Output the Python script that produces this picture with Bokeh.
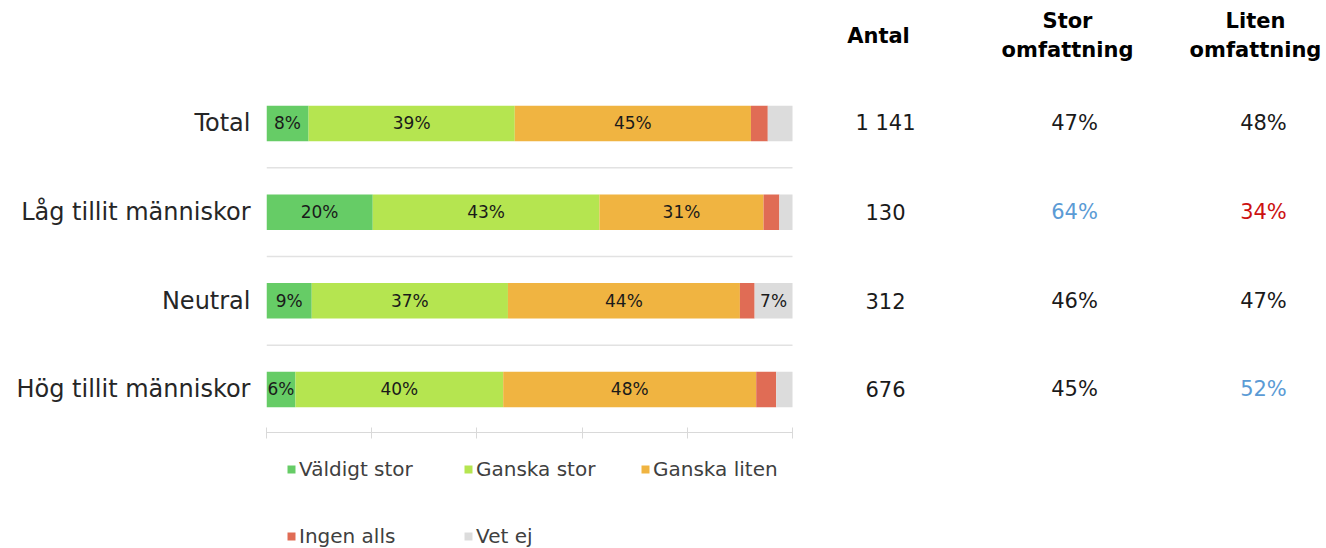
from bokeh.plotting import figure
from bokeh.layouts import column
from bokeh.models import (ColumnDataSource, FixedTicker, Legend, LegendItem, Range1d)
from bokeh.core.properties import value
from bokeh.embed import file_html
from bokeh.resources import INLINE

# ---------------- data ----------------
categories = ["Total", "Låg tillit människor", "Neutral", "Hög tillit människor"]
series = ["Väldigt stor", "Ganska stor", "Ganska liten", "Ingen alls", "Vet ej"]
valdigt_stor = [8.0, 20.2, 8.6, 5.5]
ganska_stor = [39.2, 43.1, 37.3, 39.5]
ganska_liten = [44.9, 31.2, 44.1, 48.1]
ingen_alls = [3.2, 3.0, 2.8, 3.8]
vet_ej = [4.7, 2.5, 7.2, 3.1]
x_ticks = [0, 20, 40, 60, 80, 100]

headers = ["Antal", "Stor\nomfattning", "Liten\nomfattning"]
antal = ["1 141", "130", "312", "676"]
stor_omf = [47, 64, 46, 45]
liten_omf = [48, 34, 47, 52]
# significance markers: "high" (blue), "low" (red), "" (none)
stor_sig = ["", "high", "", ""]
liten_sig = ["", "low", "", "high"]

colors = ["#66CC66", "#B5E550", "#F0B441", "#E06C55", "#DCDCDC"]
sig_colors = {"high": "#5B9BD5", "low": "#CC1111", "": "#1A1A1A"}

# ---------------- layout constants ----------------
FONT = "DejaVu Sans"
header_x = [116.35, 152.28, 188.02]
value_x = [117.68, 153.61, 189.54]
header_y = 3.99
label_min = 5.5
scale_max = 100

n = len(categories)
ys = [n - 1 - i for i in range(n)]
vals = [valdigt_stor, ganska_stor, ganska_liten, ingen_alls, vet_ej]

data = {"y": ys, "cat": categories}
for s, v in zip(series, vals):
    data[s] = v
source = ColumnDataSource(data)

p = figure(width=1326, height=444, output_backend="svg", toolbar_location=None,
           x_range=Range1d(0, 201.52), y_range=Range1d(-0.485, 4.387),
           min_border_left=266, min_border_right=0, min_border_top=0,
           min_border_bottom=12)
p.outline_line_color = None
p.background_fill_color = "white"
p.border_fill_color = "white"

# row separators
mids = [y + 0.5 for y in ys[1:]]
p.segment(x0=[0] * len(mids), x1=[scale_max] * len(mids), y0=mids, y1=mids,
          line_color="#E2E2E2", line_width=1.5)

p.hbar_stack(series, y="y", height=0.4, color=colors, line_color=None,
             source=source)

# segment labels
lx, ly, lt = [], [], []
for i in range(n):
    cum = 0.0
    for v in vals:
        val = v[i]
        if val >= label_min:
            lx.append(cum + val / 2)
            ly.append(ys[i])
            lt.append(f"{round(val)}%")
        cum += val
p.text(x=lx, y=ly, text=lt, text_align="center", text_baseline="middle",
       text_font=value(FONT), text_font_size="17px", text_color="#1A1A1A")

# table values
p.text(x=[value_x[0]] * n, y=ys, text=antal, text_align="center",
       text_baseline="middle", text_font=value(FONT), text_font_size="21px",
       text_color="#1A1A1A")
p.text(x=[value_x[1]] * n, y=ys, text=[f"{v}%" for v in stor_omf],
       text_color=[sig_colors[s] for s in stor_sig], text_align="center",
       text_baseline="middle", text_font=value(FONT), text_font_size="21px")
p.text(x=[value_x[2]] * n, y=ys, text=[f"{v}%" for v in liten_omf],
       text_color=[sig_colors[s] for s in liten_sig], text_align="center",
       text_baseline="middle", text_font=value(FONT), text_font_size="21px")
p.text(x=header_x, y=[header_y] * 3, text=headers, text_align="center",
       text_baseline="middle", text_font=value(FONT), text_font_size="21px",
       text_font_style="bold", text_line_height=1.2, text_color="#000000")

# axes
p.xaxis.ticker = FixedTicker(ticks=x_ticks)
p.xaxis.major_label_overrides = {t: "" for t in x_ticks}
p.xaxis.bounds = (0, scale_max)
p.xaxis.axis_line_color = "#D9D9D9"
p.xaxis.major_tick_line_color = "#D9D9D9"
p.xaxis.minor_tick_line_color = None
p.xaxis.major_tick_in = 5
p.xaxis.major_tick_out = 6
p.xaxis.major_label_text_font_size = "0px"
p.xaxis.major_label_standoff = 0

p.yaxis.ticker = FixedTicker(ticks=ys)
p.yaxis.major_label_overrides = {y: c for y, c in zip(ys, categories)}
p.yaxis.axis_line_color = None
p.yaxis.major_tick_line_color = None
p.yaxis.minor_tick_line_color = None
p.yaxis.major_label_standoff = 10
p.yaxis.major_label_text_font = FONT
p.yaxis.major_label_text_font_size = "24px"
p.yaxis.major_label_text_color = "#262626"

p.xgrid.grid_line_color = None
p.ygrid.grid_line_color = None

# ---------------- legend strip ----------------
# same stacked bars, kept outside this strip's visible y range; only the legend shows
p2 = figure(width=1326, height=104, output_backend="svg", toolbar_location=None,
            x_range=Range1d(0, 201.52), y_range=Range1d(10, 11),
            min_border_left=266, min_border_right=0, min_border_top=0,
            min_border_bottom=0)
p2.outline_line_color = None
p2.axis.visible = False
p2.grid.grid_line_color = None
p2.background_fill_color = "white"
p2.border_fill_color = "white"

swatches = p2.hbar_stack(series, y="y", height=0.4, color=colors,
                         line_color=None, source=source)
items = [LegendItem(label=s, renderers=[r]) for s, r in zip(series, swatches)]
for grp, loc in ((items[:3], (20, 67)), (items[3:], (20, 0))):
    leg = Legend(items=grp, orientation="horizontal", location=loc,
                 glyph_width=10, glyph_height=10, label_standoff=3,
                 label_width=150, spacing=14, padding=0, margin=0,
                 label_text_font=FONT, label_text_font_size="20px",
                 label_text_color="#404040", border_line_color=None,
                 background_fill_alpha=0)
    p2.add_layout(leg)

layout = column(p, p2, spacing=0)
open("out.html", "w").write(file_html(layout, INLINE))
